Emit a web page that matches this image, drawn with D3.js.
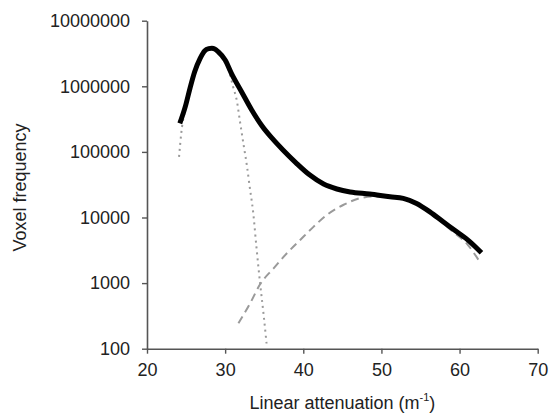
<!DOCTYPE html>
<html>
<head>
<meta charset="utf-8">
<script src="https://cdn.jsdelivr.net/npm/d3@7"></script>
<style>
  html, body { margin: 0; padding: 0; background: #fff; }
  svg { display: block; font-family: "Liberation Sans", Arial, sans-serif; }
</style>
</head>
<body>
<svg id="chart" width="550" height="414"></svg>
<script>
// Measured histogram (thick black curve)
const mainX = [24.2, 24.9, 25.5, 26.1, 26.8, 27.4, 27.9, 28.3, 28.7, 29.1, 30.0, 30.8, 32.1, 33.4, 34.7, 36.0, 37.4, 39.1, 40.8, 42.6, 44.3, 46.0, 48.5, 51.1, 52.8, 54.5, 56.2, 57.9, 59.6, 61.3, 62.8];
const mainY = [273000, 489000, 933000, 1670000, 2670000, 3490000, 3750000, 3800000, 3680000, 3370000, 2520000, 1580000, 828000, 436000, 251000, 162000, 107000, 67600, 44700, 32400, 27200, 24500, 22800, 20700, 19600, 16400, 12200, 8600, 6100, 4300, 2900];

// First fitted component (dotted)
const fit1X = [24.1, 24.4, 25.0, 25.5, 26.1, 26.8, 27.4, 28.3, 29.1, 30.0, 30.5, 31.0, 31.5, 31.9, 32.4, 32.8, 33.1, 33.6, 34.0, 34.45, 34.9, 35.3];
const fit1Y = [84000, 200000, 500000, 900000, 1600000, 2600000, 3400000, 3700000, 3300000, 2450000, 1700000, 1000000, 600000, 290000, 120000, 60000, 32000, 11600, 3600, 1050, 350, 120];

// Second fitted component (dashed)
const fit2X = [31.7, 33.2, 34.45, 36.2, 37.9, 39.6, 41.3, 43.0, 45.1, 47.2, 49.0, 51.0, 53.0, 55.0, 57.0, 59.0, 61.0, 62.6];
const fit2Y = [244, 492, 950, 1680, 2850, 4540, 7200, 10900, 15500, 19600, 21000, 20500, 18700, 15000, 10000, 6300, 3900, 2100];

// Axis ticks
const xTicks = [20, 30, 40, 50, 60, 70];
const yTicks = [100, 1000, 10000, 100000, 1000000, 10000000];

const svg = d3.select("#chart");
const mLeft = 147, mTop = 20.7, mRight = 537.7, mBottom = 348.7;

const x = d3.scaleLinear().domain([20, 70]).range([mLeft, mRight]);
const y = d3.scaleLog().domain([100, 10000000]).range([mBottom, mTop]);

const axisColor = "#555";
const textColor = "#222";

// Axes
const gx = svg.append("g")
  .attr("transform", `translate(0,${mBottom})`)
  .call(d3.axisBottom(x).tickValues(xTicks).tickFormat(d3.format("d")).tickSizeInner(5).tickSizeOuter(0).tickPadding(9.5));
const gy = svg.append("g")
  .attr("transform", `translate(${mLeft},0)`)
  .call(d3.axisLeft(y).tickValues(yTicks).tickFormat(d3.format("d")).tickSizeInner(5).tickSizeOuter(0).tickPadding(12));

[gx, gy].forEach(g => {
  g.select(".domain").attr("stroke", axisColor).attr("stroke-width", 1.6);
  g.selectAll(".tick line").attr("stroke", axisColor).attr("stroke-width", 1.4);
  g.selectAll(".tick text").attr("fill", textColor).attr("font-size", 18)
    .attr("font-family", "'Liberation Sans', Arial, sans-serif");
});

// Lines
const line = (xs, ys) => d3.line()
  .x((d, i) => x(xs[i]))
  .y((d, i) => y(ys[i]))
  .curve(d3.curveMonotoneX)(xs);

svg.append("path")
  .attr("d", line(fit1X, fit1Y))
  .attr("fill", "none")
  .attr("stroke", "#9a9a9a")
  .attr("stroke-width", 2)
  .attr("stroke-dasharray", "2,4");

svg.append("path")
  .attr("d", line(fit2X, fit2Y))
  .attr("fill", "none")
  .attr("stroke", "#9a9a9a")
  .attr("stroke-width", 2)
  .attr("stroke-dasharray", "8,5");

svg.append("path")
  .attr("d", line(mainX, mainY))
  .attr("fill", "none")
  .attr("stroke", "#000")
  .attr("stroke-width", 5)
  .attr("stroke-linejoin", "round")
  .attr("stroke-linecap", "butt");

// Axis titles
const xt = svg.append("text")
  .attr("x", (mLeft + mRight) / 2)
  .attr("y", 409)
  .attr("text-anchor", "middle")
  .attr("font-size", 18)
  .attr("fill", textColor);
xt.append("tspan").text("Linear attenuation (m");
xt.append("tspan").attr("font-size", 11).attr("dy", -8).text("-1");
xt.append("tspan").attr("dy", 8).text(")");

svg.append("text")
  .attr("transform", "translate(26,187.5) rotate(-90)")
  .attr("text-anchor", "middle")
  .attr("font-size", 18)
  .attr("fill", textColor)
  .text("Voxel frequency");
</script>
</body>
</html>
